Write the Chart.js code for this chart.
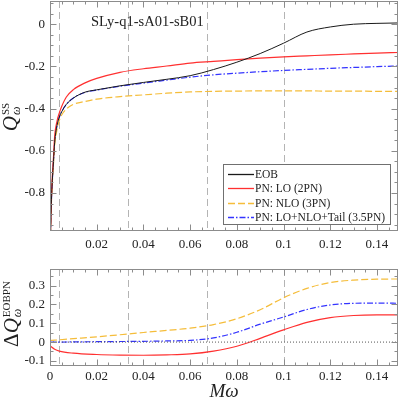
<!DOCTYPE html>
<html>
<head>
<meta charset="utf-8">
<script src="https://cdn.jsdelivr.net/npm/chart.js@4.4.1/dist/chart.umd.min.js"></script>
<style>
  html, body { margin: 0; padding: 0; background: #fff; }
  #wrap { position: relative; width: 399px; height: 403px; overflow: hidden; font-family: "Liberation Serif", "Times New Roman", serif; color: #222; }
  canvas { position: absolute; left: 0; }
  #top { top: 0; }
  #bot { top: 262px; }
  .ylab { position: absolute; white-space: nowrap; line-height: 1; transform: translate(-50%, -50%) rotate(-90deg); }
  .q { font-style: italic; font-size: 21px; }
  .d { font-size: 21px; }
  .stack { display: inline-flex; flex-direction: column; vertical-align: 8px; margin-left: 1px; }
  .sup { font-size: 11px; line-height: 11px; }
  .sub { font-size: 12px; line-height: 11px; font-style: italic; }
  #title { position: absolute; left: 91px; top: 13px; font-size: 14.5px; }
</style>
</head>
<body>
<div id="wrap">
  <canvas id="top" width="399" height="262"></canvas>
  <canvas id="bot" width="399" height="141"></canvas>
  <div id="title">SLy-q1-sA01-sB01</div>
  <div class="ylab" style="left:11px;top:117px"><span class="q">Q</span><span class="stack"><span class="sup">SS</span><span class="sub">ω</span></span></div>
  <div class="ylab" style="left:12px;top:314px"><span class="d">Δ</span><span class="q">Q</span><span class="stack"><span class="sup">EOBPN</span><span class="sub">ω</span></span></div>
</div>
<script>
// top panel: Q_omega^SS vs M omega
const xTop = [0.0002, 0.0005, 0.001, 0.0015, 0.002, 0.003, 0.004, 0.005, 0.007, 0.01, 0.015, 0.02, 0.03, 0.04, 0.05, 0.06, 0.07, 0.08, 0.09, 0.1, 0.11, 0.12, 0.13, 0.14, 0.149]
const eob = [-1.0, -0.87, -0.74, -0.65, -0.56, -0.48, -0.44, -0.415, -0.38, -0.35, -0.322, -0.311, -0.292, -0.276, -0.261, -0.244, -0.215, -0.18, -0.139, -0.09, -0.037, -0.013, 0.0, 0.004, 0.006]
const pnLO = [-1.0, -0.86, -0.72, -0.63, -0.53, -0.46, -0.42, -0.39, -0.345, -0.31, -0.278, -0.257, -0.228, -0.211, -0.198, -0.184, -0.176, -0.168, -0.161, -0.155, -0.15, -0.145, -0.141, -0.137, -0.134]
const pnNLO = [-1.0, -0.875, -0.75, -0.66, -0.575, -0.5, -0.455, -0.43, -0.402, -0.38, -0.366, -0.355, -0.343, -0.335, -0.327, -0.321, -0.318, -0.317, -0.316, -0.316, -0.316, -0.317, -0.317, -0.318, -0.318]
const pnTail = [-1.0, -0.87, -0.74, -0.65, -0.56, -0.48, -0.44, -0.415, -0.38, -0.35, -0.323, -0.312, -0.294, -0.279, -0.265, -0.251, -0.24, -0.232, -0.225, -0.219, -0.214, -0.209, -0.205, -0.201, -0.198]

// bottom panel: Delta Q_omega^EOBPN
const xBot = [0, 0.002, 0.004, 0.01, 0.02, 0.03, 0.04, 0.05, 0.06, 0.07, 0.08, 0.09, 0.1, 0.11, 0.12, 0.13, 0.14, 0.149]
const dLO = [-0.02, -0.038, -0.048, -0.059, -0.066, -0.069, -0.07, -0.068, -0.063, -0.048, -0.022, 0.02, 0.065, 0.105, 0.13, 0.141, 0.144, 0.144]
const dNLO = [0.009, 0.01, 0.012, 0.018, 0.028, 0.039, 0.051, 0.062, 0.074, 0.093, 0.124, 0.172, 0.235, 0.285, 0.316, 0.329, 0.334, 0.335]
const dTail = [0.0, 0.0, 0.0, 0.001, 0.002, 0.003, 0.004, 0.006, 0.009, 0.022, 0.052, 0.095, 0.133, 0.173, 0.197, 0.206, 0.207, 0.206]

const markers = [0.004, 0.0335, 0.0674, 0.1]
const xTicksTop = [0.02, 0.04, 0.06, 0.08, 0.1, 0.12, 0.14]
const xTicksBot = [0, 0.02, 0.04, 0.06, 0.08, 0.1, 0.12, 0.14]
const yTicksTop = [0, -0.2, -0.4, -0.6, -0.8]
const yTicksBot = [0.3, 0.2, 0.1, 0, -0.1]

const serif = '"Liberation Serif", "Times New Roman", serif'
const pts = (xs, ys) => xs.map((x, i) => ({ x: x, y: ys[i] }))

function steps(min, max, step) {
  const out = []
  for (let v = Math.ceil(min / step) * step; v <= max + 1e-9; v += step) out.push(+v.toFixed(4))
  return out
}

// frame with inward ticks on all four sides, plus dashed markers
const frame = {
  id: "frame",
  beforeDatasetsDraw(chart) {
    const { ctx, chartArea: a, scales: { x } } = chart
    ctx.save()
    ctx.strokeStyle = "#b4b4b4"
    ctx.lineWidth = 1
    ctx.setLineDash([7, 4])
    markers.forEach(m => {
      const px = Math.round(x.getPixelForValue(m)) + 0.5
      ctx.beginPath()
      ctx.moveTo(px, a.top)
      ctx.lineTo(px, a.bottom)
      ctx.stroke()
    })
    ctx.restore()
  },
  afterDatasetsDraw(chart, args, o) {
    const { ctx, chartArea: a, scales: { x, y } } = chart
    ctx.save()
    ctx.strokeStyle = "#8c8c8c"
    ctx.lineWidth = 1
    const L = a.left + 0.5, R = a.right - 0.5, T = a.top + 0.5, B = a.bottom - 0.5
    ctx.strokeRect(L, T, R - L, B - T)
    const xt = (v, len) => {
      const px = Math.round(x.getPixelForValue(v)) + 0.5
      ctx.moveTo(px, B); ctx.lineTo(px, B - len)
      ctx.moveTo(px, T); ctx.lineTo(px, T + len)
    }
    const yt = (v, len) => {
      const py = Math.round(y.getPixelForValue(v)) + 0.5
      ctx.moveTo(L, py); ctx.lineTo(L + len, py)
      ctx.moveTo(R, py); ctx.lineTo(R - len, py)
    }
    ctx.beginPath()
    steps(x.min, x.max, 0.005).forEach(v => xt(v, 3))
    o.xMajor.forEach(v => xt(v, 6))
    steps(y.min, y.max, 0.05).forEach(v => yt(v, 3))
    o.yMajor.forEach(v => yt(v, 6))
    ctx.stroke()
    ctx.restore()
  }
}

const boxLegend = {
  id: "boxLegend",
  afterDraw(chart, args, o) {
    if (!o.show) return
    const ctx = chart.ctx
    ctx.save()
    ctx.fillStyle = "#fff"
    ctx.fillRect(o.left, o.top, o.width, o.height)
    ctx.strokeStyle = "#707070"
    ctx.lineWidth = 1
    ctx.strokeRect(o.left + 0.5, o.top + 0.5, o.width, o.height)
    ctx.font = "11.5px " + serif
    ctx.textBaseline = "middle"
    chart.data.datasets.forEach((ds, i) => {
      const yy = Math.round(o.top + o.first + i * o.step) + 0.5
      ctx.strokeStyle = ds.borderColor
      ctx.lineWidth = 1.3
      ctx.setLineDash(ds.borderDash || [])
      ctx.beginPath()
      ctx.moveTo(o.left + 5, yy)
      ctx.lineTo(o.left + 31, yy)
      ctx.stroke()
      ctx.setLineDash([])
      ctx.fillStyle = "#222"
      ctx.fillText(ds.label, o.left + 32, yy)
    })
    ctx.restore()
  }
}

function axisFont(size) {
  return { family: serif, size: size }
}

function makeChart(id, datasets, cfg) {
  return new Chart(document.getElementById(id), {
    type: "line",
    data: { datasets: datasets },
    plugins: [frame, boxLegend],
    options: {
      responsive: false,
      animation: false,
      devicePixelRatio: 1,
      layout: { padding: { left: 0, right: 1, top: cfg.padTop, bottom: 0 } },
      elements: { point: { radius: 0 }, line: { borderWidth: 1.2, cubicInterpolationMode: "monotone" } },
      plugins: {
        legend: { display: false },
        tooltip: { enabled: false },
        frame: { xMajor: cfg.xTicks, yMajor: cfg.yTicks },
        boxLegend: cfg.legend
      },
      scales: {
        x: {
          type: "linear",
          min: 0,
          max: 0.149,
          grid: { display: false, drawTicks: false },
          border: { display: false },
          afterBuildTicks: s => { s.ticks = cfg.xTicks.map(v => ({ value: v })) },
          afterFit: s => { s.height = cfg.xHeight; s.paddingLeft = 0; s.paddingRight = 0 },
          ticks: { padding: cfg.xPad, maxRotation: 0, autoSkip: false, color: "#222", font: axisFont(13), callback: v => String(v) },
          title: cfg.xTitle
        },
        y: {
          min: cfg.yMin,
          max: cfg.yMax,
          grid: { display: false, drawTicks: false },
          border: { display: false },
          afterBuildTicks: s => { s.ticks = cfg.yTicks.map(v => ({ value: v })) },
          afterFit: s => { s.width = 50; s.paddingTop = 0; s.paddingBottom = 0 },
          ticks: { padding: 5, autoSkip: false, color: "#222", font: axisFont(13), callback: v => String(v) }
        }
      }
    }
  })
}

makeChart("top", [
  { label: "EOB", data: pts(xTop, eob), borderColor: "#1a1a1a", borderWidth: 1 },
  { label: "PN: LO (2PN)", data: pts(xTop, pnLO), borderColor: "#ff3030" },
  { label: "PN: NLO (3PN)", data: pts(xTop, pnNLO), borderColor: "#f5bd3a", borderDash: [7, 3] },
  { label: "PN: LO+NLO+Tail (3.5PN)", data: pts(xTop, pnTail), borderColor: "#3434ff", borderDash: [6, 2, 1.5, 2] }
], {
  padTop: 1, xHeight: 31, xPad: 6, yMin: -0.98, yMax: 0.11,
  xTicks: xTicksTop, yTicks: yTicksTop,
  legend: { show: true, left: 223, top: 164, width: 167, height: 60, first: 9.5, step: 14.6 },
  xTitle: { display: false }
})

makeChart("bot", [
  { label: "zero", data: pts([0, 0.149], [0, 0]), borderColor: "#555", borderWidth: 1, borderDash: [1, 2] },
  { label: "LO", data: pts(xBot, dLO), borderColor: "#ff3030" },
  { label: "NLO", data: pts(xBot, dNLO), borderColor: "#f5bd3a", borderDash: [7, 3] },
  { label: "LO+NLO+Tail", data: pts(xBot, dTail), borderColor: "#3434ff", borderDash: [6, 2, 1.5, 2] }
], {
  padTop: 7, xHeight: 37, xPad: 3, yMin: -0.127, yMax: 0.388,
  xTicks: xTicksBot, yTicks: yTicksBot,
  legend: { show: false },
  xTitle: { display: true, text: "Mω", color: "#222", padding: { top: 0, bottom: 0 }, font: { family: serif, size: 19, style: "italic" } }
})
</script>
</body>
</html>
